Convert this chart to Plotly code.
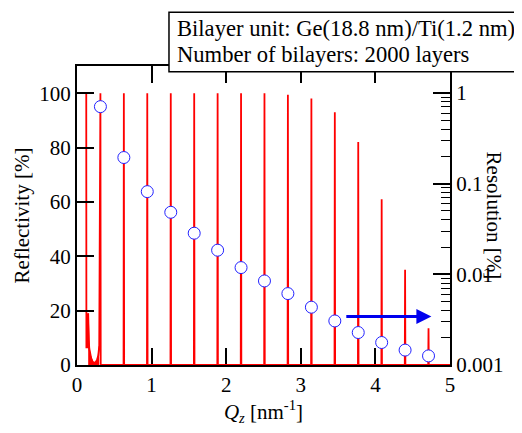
import plotly.graph_objects as go

# Bragg peak positions (Qz, nm^-1) and peak reflectivity (%)
peak_q = [0.314, 0.628, 0.942, 1.257, 1.571, 1.885, 2.199, 2.513, 2.827, 3.142,
          3.456, 3.770, 4.084, 4.398, 4.712]
peak_r = [100, 100, 100, 100, 100, 100, 100, 100, 99.4, 98, 93, 82, 61, 35, 13.5]

# low-Q region (total reflection edge and dense fringes)
low_q = [0.124, 0.126, 0.148, 0.150, 0.153, 0.158, 0.165, 0.175, 0.19, 0.21, 0.23, 0.25, 0.27, 0.285, 0.298]
low_r = [100, 6.5, 6.5, 19, 13, 9, 6, 4, 2.5, 1.2, 0.8, 1.0, 2.0, 3.5, 7]

# resolution (%) at each peak
res = [0.706, 0.194, 0.0816, 0.0483, 0.0284, 0.01845, 0.01186, 0.00845, 0.00613,
       0.00434, 0.00306, 0.00228, 0.00177, 0.00146, 0.00126]

box_lines = ["Bilayer unit: Ge(18.8 nm)/Ti(1.2 nm)", "Number of bilayers: 2000 layers"]

half_w = 0.004
xs = list(low_q)
ys = list(low_r)
for i, (q, r) in enumerate(zip(peak_q, peak_r)):
    if i > 0:
        xs.append(q - half_w); ys.append(0)
    xs.append(q); ys.append(r)
    xs.append(q + half_w); ys.append(0)
xs.append(5.0); ys.append(0)

FONT = "Liberation Serif"

fig = go.Figure()
# dense fringe region drawn as a filled band
fig.add_trace(go.Scatter(x=low_q[3:], y=low_r[3:], mode="lines", fill="tozeroy",
                         fillcolor="#ff0000", line=dict(color="#ff0000", width=1),
                         showlegend=False, yaxis="y"))
fig.add_trace(go.Scatter(x=xs, y=ys, mode="lines",
                         line=dict(color="#ff0000", width=1.8), showlegend=False,
                         yaxis="y"))
fig.add_trace(go.Scatter(x=peak_q, y=res, mode="markers",
                         marker=dict(symbol="circle", size=12, color="white",
                                     line=dict(color="#2222ff", width=1)),
                         showlegend=False, yaxis="y2"))

fig.update_layout(
    width=514, height=425,
    margin=dict(l=69, r=72, t=58, b=68),
    plot_bgcolor="white", paper_bgcolor="white",
    font=dict(family=FONT, size=21, color="black"),
    xaxis=dict(range=[0, 5], dtick=1, tick0=0, ticks="inside", ticklen=17, tickwidth=1.5,
               tickcolor="black", showline=True, linecolor="black", linewidth=2,
               mirror="ticks", showgrid=False, zeroline=False, layer="below traces",
               automargin=False,
               title=dict(text="<i>Q</i><sub><i>z</i></sub> [nm<sup>-1</sup>]", standoff=4,
                          font=dict(family=FONT, size=21)),
               tickfont=dict(family=FONT, size=21)),
    yaxis=dict(range=[0, 110], tickvals=[0, 20, 40, 60, 80, 100], ticks="inside",
               ticklen=17, tickwidth=1.5, tickcolor="black", showline=True,
               linecolor="black", linewidth=2, showgrid=False, zeroline=False,
               automargin=False,
               title=dict(text="Reflectivity [%]", standoff=4, font=dict(family=FONT, size=21)),
               tickfont=dict(family=FONT, size=21)),
    yaxis2=dict(type="log", range=[-3, 0.297], overlaying="y", side="right",
                tickvals=[0.001, 0.01, 0.1, 1], ticktext=["0.001", "0.01", "0.1", "1"],
                ticks="inside", ticklen=17, tickwidth=1.5, tickcolor="black",
                showline=True, linecolor="black", linewidth=2, showgrid=False,
                zeroline=False, automargin=False, tickfont=dict(family=FONT, size=21),
                minor=dict(ticks="inside", ticklen=9, tickwidth=1.2, tickcolor="black",
                           dtick="D1", showgrid=False)),
    shapes=[
        dict(type="rect", xref="paper", yref="paper", x0=0.2466, x1=1.1863,
             y0=0.981, y1=1.1796, line=dict(color="black", width=1.5),
             fillcolor="white", layer="above"),
    ],
    annotations=[
        dict(text=box_lines[0], xref="paper", yref="paper", x=0.2627, y=1.127,
             xanchor="left", yanchor="middle", showarrow=False,
             font=dict(size=22.6, family=FONT)),
        dict(text=box_lines[1], xref="paper", yref="paper", x=0.2627, y=1.0368,
             xanchor="left", yanchor="middle", showarrow=False,
             font=dict(size=22.6, family=FONT)),
        dict(text="Resolution [%]", xref="paper", yref="paper", x=1.158, y=0.5,
             textangle=90, showarrow=False, font=dict(size=21, family=FONT)),
        dict(x=4.75, y=17.8, ax=3.59, ay=17.8, xref="x", yref="y", axref="x", ayref="y",
             text="", showarrow=True, arrowhead=2, arrowsize=1, arrowwidth=3,
             arrowcolor="#0000ee"),
    ],
)

fig.write_html("out.html")
